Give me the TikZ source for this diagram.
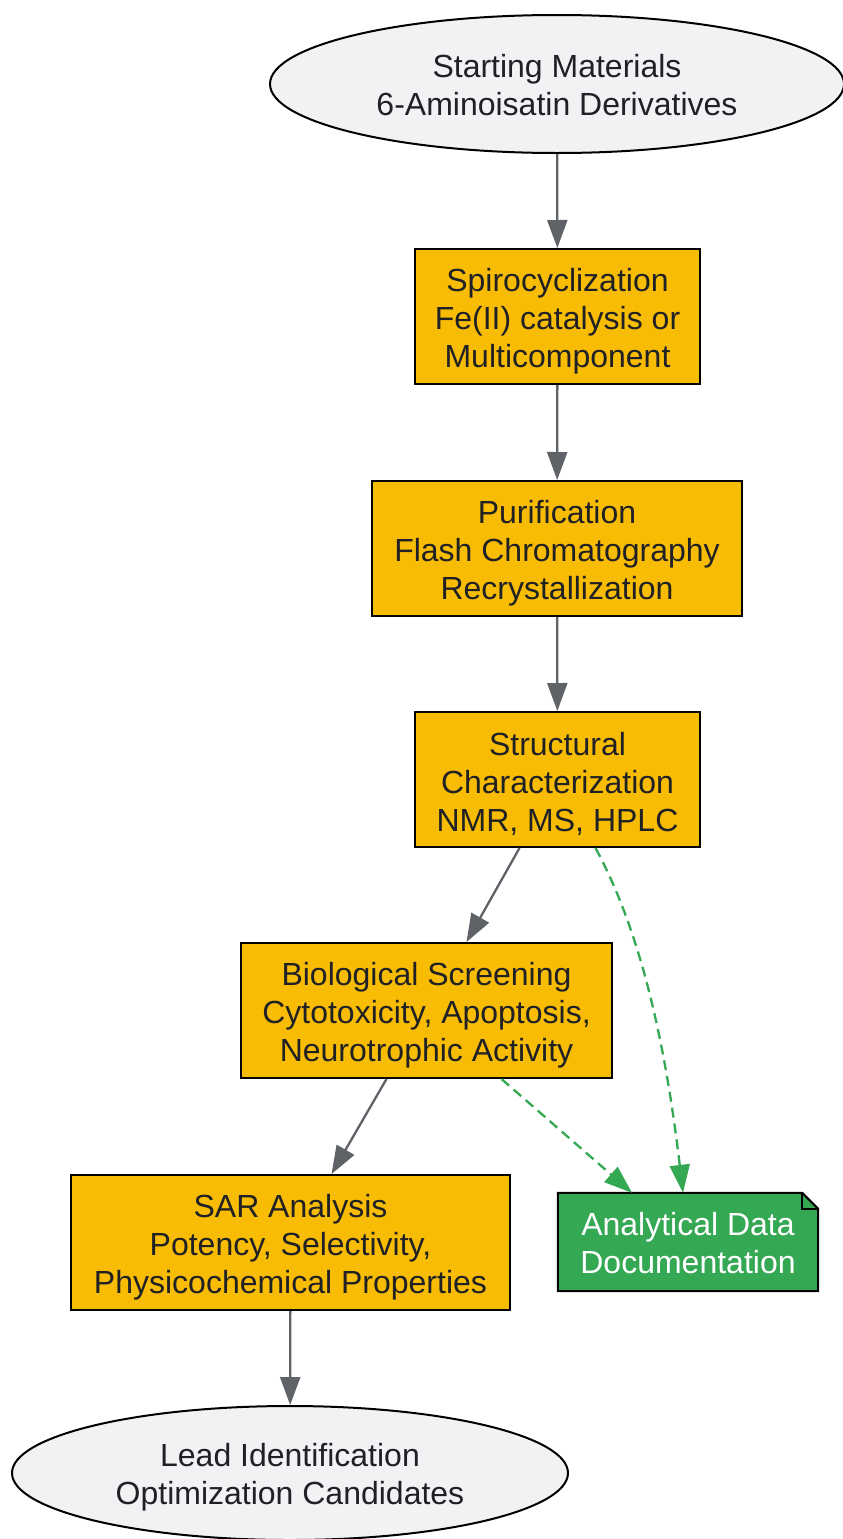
\documentclass[tikz,border=0pt]{standalone}
\usepackage{fontspec}
\setmainfont{Liberation Sans}
\usetikzlibrary{shapes.geometric,arrows.meta,calc}
\definecolor{boxfill}{HTML}{F9BC05}
\definecolor{termfill}{HTML}{F1F2F4}
\definecolor{notefill}{HTML}{34A853}
\definecolor{edgegray}{HTML}{5F6368}
\definecolor{txt}{HTML}{202124}
\begin{document}
\begin{tikzpicture}[x=1pt,y=-1pt,
  every node/.style={font=\fontsize{32}{38}\selectfont, text=txt, align=center},
  proc/.style={rectangle, draw=black, line width=2pt, fill=boxfill, inner sep=0pt},
  term/.style={ellipse, draw=black, line width=2pt, fill=termfill, inner sep=0pt},
  lbl/.style={yshift=-4.5pt},
  flow/.style={draw=edgegray, line width=2.3pt, -{Triangle[length=28pt,width=20pt]}},
  doc/.style={draw=notefill, line width=2.3pt, dash pattern=on 10pt off 6pt, -{Triangle[length=28pt,width=20pt]}}
]
\useasboundingbox (0,0) rectangle (843,1539);
\fill[white] (0,0) rectangle (843,1539);

\node[term, minimum width=574pt, minimum height=138pt,
  label={[yshift=-1pt]center:{Starting Materials\\6-Aminoisatin Derivatives}}] (start) at (557,84) {};
\node[proc, minimum width=285pt, minimum height=135pt,
  label={[lbl]center:{Spirocyclization\\Fe(II) catalysis or\\Multicomponent}}] (s1) at (557.5,316.5) {};
\node[proc, minimum width=370pt, minimum height=135pt,
  label={[lbl]center:{Purification\\Flash Chromatography\\Recrystallization}}] (s2) at (557,548.5) {};
\node[proc, minimum width=285pt, minimum height=135pt,
  label={[lbl]center:{Structural\\Characterization\\NMR, MS, HPLC}}] (s3) at (557.5,779.5) {};
\node[proc, minimum width=371pt, minimum height=135pt,
  label={[lbl]center:{Biological Screening\\Cytotoxicity, Apoptosis,\\Neurotrophic Activity}}] (s4) at (426.5,1010.5) {};
\node[proc, minimum width=439pt, minimum height=135pt,
  label={[lbl]center:{SAR Analysis\\Potency, Selectivity,\\Physicochemical Properties}}] (s5) at (290.5,1242.5) {};
\node[term, minimum width=556pt, minimum height=134pt,
  label={[lbl]center:{Lead Identification\\Optimization Candidates}}] (lead) at (290,1473) {};

\node[minimum width=260pt, minimum height=98pt, inner sep=0pt] (note) at (688,1242) {};
\path[fill=notefill, draw=black, line width=2pt]
  (note.north west) -- ([xshift=-16pt]note.north east) -- ([yshift=-16pt]note.north east) -- (note.south east) -- (note.south west) -- cycle;
\path[draw=black, line width=2pt] ([xshift=-16pt]note.north east) -- ([xshift=-16pt,yshift=-16pt]note.north east) -- ([yshift=-16pt]note.north east);
\node[text=white, yshift=-1pt] (notetext) at (note.center) {Analytical Data\\Documentation};

\draw[flow] (start) -- (s1);
\draw[flow] (s1) -- (s2);
\draw[flow] (s2) -- (s3);
\draw[flow] ([xshift=-38pt]s3.south) -- ([xshift=40pt]s4.north);
\draw[flow] ([xshift=-40pt]s4.south) -- ([xshift=41pt]s5.north);
\draw[flow] (s5) -- (lead);
\draw[doc] ([xshift=38pt]s3.south) .. controls (640,930) and (665,1040) .. ([xshift=-5pt]note.north);
\draw[doc] ([xshift=75pt]s4.south) -- ([xshift=-56pt]note.north);
\end{tikzpicture}
\end{document}
